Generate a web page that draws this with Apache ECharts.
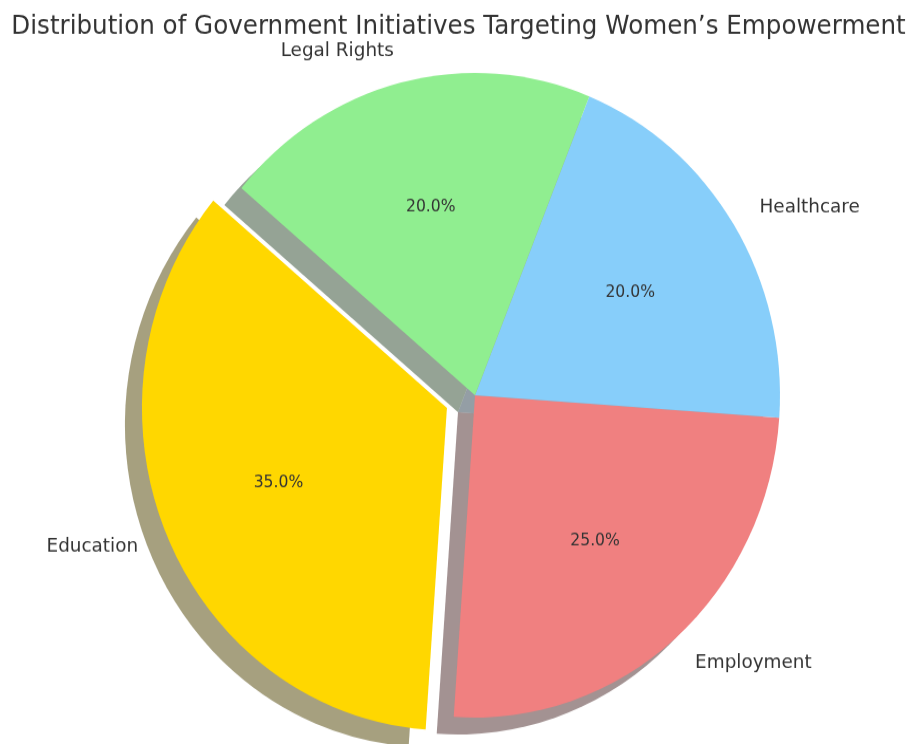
<!DOCTYPE html>
<html>
<head>
<meta charset="utf-8">
<script src="https://cdn.jsdelivr.net/npm/echarts@6/dist/echarts.min.js"></script>
<style>
html,body{margin:0;padding:0;background:#fff;}
body{width:917px;height:744px;}
#chart{width:917px;height:704px;transform:scaleY(1.0568);transform-origin:0 0;}
</style>
</head>
<body>
<div id="chart"></div>
<script>
const titleText = 'Distribution of Government Initiatives Targeting Women\u2019s Empowerment';
const categories = ['Education', 'Employment', 'Healthcare', 'Legal Rights'];
const values = [35, 25, 20, 20];
const colors = ['#FFD700', '#F08080', '#87CEFA', '#90EE90'];
const exploded = [true, false, false, false];

const R = 305;
const CX = 475, CY = 374;
const EXPLODE = 0.1 * R;

function shadowColor(hex) {
  const r = parseInt(hex.slice(1, 3), 16), g = parseInt(hex.slice(3, 5), 16), b = parseInt(hex.slice(5, 7), 16);
  return 'rgba(' + Math.round(r * 0.3) + ',' + Math.round(g * 0.3) + ',' + Math.round(b * 0.3) + ',0.5)';
}

function makeData(colorFn) {
  return categories.map((c, i) => ({
    name: c, value: values[i], selected: exploded[i],
    itemStyle: { color: colorFn(i) }
  }));
}

const common = {
  type: 'pie',
  startAngle: 140,
  clockwise: false,
  selectedMode: 'multiple',
  selectedOffset: EXPLODE,
  avoidLabelOverlap: false,
  silent: true,
  animation: false,
  emphasis: { disabled: true, scale: false },
  select: { disabled: false, itemStyle: {} }
};

const chart = echarts.init(document.getElementById('chart'), null, { renderer: 'canvas' });
chart.setOption({
  backgroundColor: '#ffffff',
  animation: false,
  title: {
    text: titleText,
    left: 'center',
    top: 8,
    textStyle: { fontFamily: 'DejaVu Sans', fontSize: 24.6, fontWeight: 'normal', color: '#333333' }
  },
  series: [
    Object.assign({}, common, {
      name: 'shadow',
      z: 1,
      center: [CX - 17, CY + 16],
      radius: R,
      label: { show: false },
      labelLine: { show: false },
      data: makeData(i => shadowColor(colors[i]))
    }),
    Object.assign({}, common, {
      name: 'main',
      z: 2,
      center: [CX, CY],
      radius: R,
      label: {
        show: true,
        position: 'outside',
        formatter: '{b}',
        fontFamily: 'DejaVu Sans',
        fontSize: 18.4,
        color: '#333333',
        distanceToLabelLine: 0
      },
      labelLine: { show: false, length: 0.1 * R, length2: 0 },
      data: makeData(i => colors[i])
    }),
    Object.assign({}, common, {
      name: 'pct',
      z: 3,
      center: [CX, CY],
      radius: 2 * 0.6 * R - 6,
      label: {
        show: true,
        position: 'inside',
        formatter: p => p.percent.toFixed(1) + '%',
        fontFamily: 'DejaVu Sans',
        fontSize: 15.6,
        color: '#333333'
      },
      labelLine: { show: false },
      itemStyle: { color: 'rgba(0,0,0,0)' },
      data: categories.map((c, i) => ({ name: c, value: values[i], selected: exploded[i], itemStyle: { color: 'rgba(0,0,0,0)' } }))
    })
  ]
});
</script>
</body>
</html>
